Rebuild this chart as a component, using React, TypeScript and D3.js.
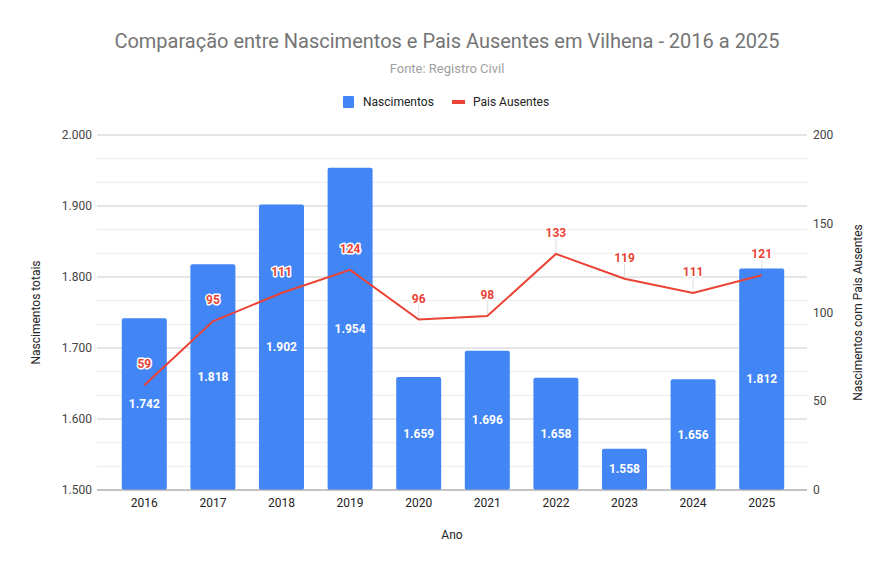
import * as d3 from 'd3';

const years = ['2016', '2017', '2018', '2019', '2020', '2021', '2022', '2023', '2024', '2025'];
const nascimentos = [1742, 1818, 1902, 1954, 1659, 1696, 1658, 1558, 1656, 1812];
const paisAusentes = [59, 95, 111, 124, 96, 98, 133, 119, 111, 121];
const leftTicks = [1500, 1600, 1700, 1800, 1900, 2000];
const rightTicks = [0, 50, 100, 150, 200];

const W = 895;
const H = 571;
const plot = { left: 97, right: 807, top: 135, bottom: 490 };
const BLUE = '#4285f4';
const RED = '#ea4335';
const FONT = 'Roboto, Arial, sans-serif';

const ptBR = d3.formatLocale({ decimal: ',', thousands: '.', grouping: [3], currency: ['R$', ''] });
const fmt = ptBR.format(',d');

export default function App() {
  const x = d3
    .scaleBand<string>()
    .domain(years)
    .range([110, 796])
    .paddingInner(0.344)
    .paddingOuter(0.172);
  const yL = d3.scaleLinear().domain([1500, 2000]).range([plot.bottom, plot.top]);
  const yR = d3.scaleLinear().domain([0, 200]).range([plot.bottom, plot.top]);

  // minor grid: 3 subdivisions between major ticks
  const minor: number[] = [];
  for (let i = 0; i < leftTicks.length - 1; i++) {
    const a = leftTicks[i];
    const b = leftTicks[i + 1];
    minor.push(a + (b - a) / 3, a + (2 * (b - a)) / 3);
  }

  const cx = (i: number) => (x(years[i]) ?? 0) + x.bandwidth() / 2;

  const line = d3
    .line<number>()
    .x((_, i) => cx(i))
    .y((d) => yR(d));

  const midY = (plot.top + plot.bottom) / 2;

  return (
    <svg width={W} height={H} style={{ display: 'block', margin: -8, fontFamily: FONT }}>
      <rect width={W} height={H} fill="#fff" />

      <text x={447} y={48} textAnchor="middle" fontSize={20} fill="#757575">
        Comparação entre Nascimentos e Pais Ausentes em Vilhena - 2016 a 2025
      </text>
      <text x={447} y={73} textAnchor="middle" fontSize={13} fill="#a0a0a0">
        Fonte: Registro Civil
      </text>

      {/* legend */}
      <g fontSize={12} fill="#222">
        <rect x={343} y={96} width={11} height={12} rx={1} fill={BLUE} />
        <text x={363} y={106}>Nascimentos</text>
        <rect x={452} y={100} width={13} height={4} fill={RED} />
        <text x={473} y={106}>Pais Ausentes</text>
      </g>

      {/* grid */}
      {minor.map((v) => (
        <line key={'m' + v} x1={plot.left} x2={plot.right} y1={yL(v)} y2={yL(v)} stroke="#ebebeb" />
      ))}
      {leftTicks.map((v) => (
        <line
          key={'g' + v}
          x1={plot.left}
          x2={plot.right}
          y1={yL(v)}
          y2={yL(v)}
          stroke={v === 1500 ? '#b0b0b0' : '#cccccc'}
        />
      ))}

      {/* left axis */}
      <g fontSize={12} fill="#444" textAnchor="end">
        {leftTicks.map((v) => (
          <text key={v} x={92} y={yL(v) + 4}>
            {fmt(v)}
          </text>
        ))}
      </g>
      {/* right axis */}
      <g fontSize={12} fill="#444" textAnchor="start">
        {rightTicks.map((v) => (
          <text key={v} x={813} y={yR(v) + 4}>
            {v}
          </text>
        ))}
      </g>

      {/* leader lines (under bars) */}
      {paisAusentes.map((v, i) => (
        <line key={'l' + i} x1={cx(i)} x2={cx(i)} y1={yR(v) - 15} y2={yR(v)} stroke="#e0e0e0" />
      ))}

      {/* bars */}
      {nascimentos.map((v, i) => (
        <rect
          key={years[i]}
          x={x(years[i])}
          y={yL(v)}
          width={x.bandwidth()}
          height={plot.bottom - yL(v)}
          rx={2}
          fill={BLUE}
        />
      ))}
      <line x1={plot.left} x2={plot.right} y1={plot.bottom} y2={plot.bottom} stroke="#b0b0b0" />

      {/* bar labels */}
      <g fontSize={12} fontWeight={700} fill="#fff" textAnchor="middle">
        {nascimentos.map((v, i) => (
          <text key={years[i]} x={cx(i)} y={(yL(v) + plot.bottom) / 2 + 4}>
            {fmt(v)}
          </text>
        ))}
      </g>

      {/* line series */}
      <path d={line(paisAusentes) ?? ''} fill="none" stroke={RED} strokeWidth={2} />

      {/* line labels */}
      <g fontSize={12} fontWeight={700} fill={RED} textAnchor="middle">
        {paisAusentes.map((v, i) => (
          <text
            key={years[i]}
            x={cx(i)}
            y={yR(v) - 17}
            stroke="#fff"
            strokeWidth={3}
            strokeLinejoin="round"
            style={{ paintOrder: 'stroke' }}
          >
            {v}
          </text>
        ))}
      </g>

      {/* x axis labels */}
      <g fontSize={12} fill="#222" textAnchor="middle">
        {years.map((yr, i) => (
          <text key={yr} x={cx(i)} y={507}>
            {yr}
          </text>
        ))}
      </g>

      {/* axis titles */}
      <text x={452} y={539} textAnchor="middle" fontSize={12} fill="#222">
        Ano
      </text>
      <text
        transform={`translate(40,${midY}) rotate(-90)`}
        textAnchor="middle"
        fontSize={12}
        fill="#222"
      >
        Nascimentos totais
      </text>
      <text
        transform={`translate(862,${midY}) rotate(-90)`}
        textAnchor="middle"
        fontSize={12}
        fill="#222"
      >
        Nascimentos com Pais Ausentes
      </text>
    </svg>
  );
}
